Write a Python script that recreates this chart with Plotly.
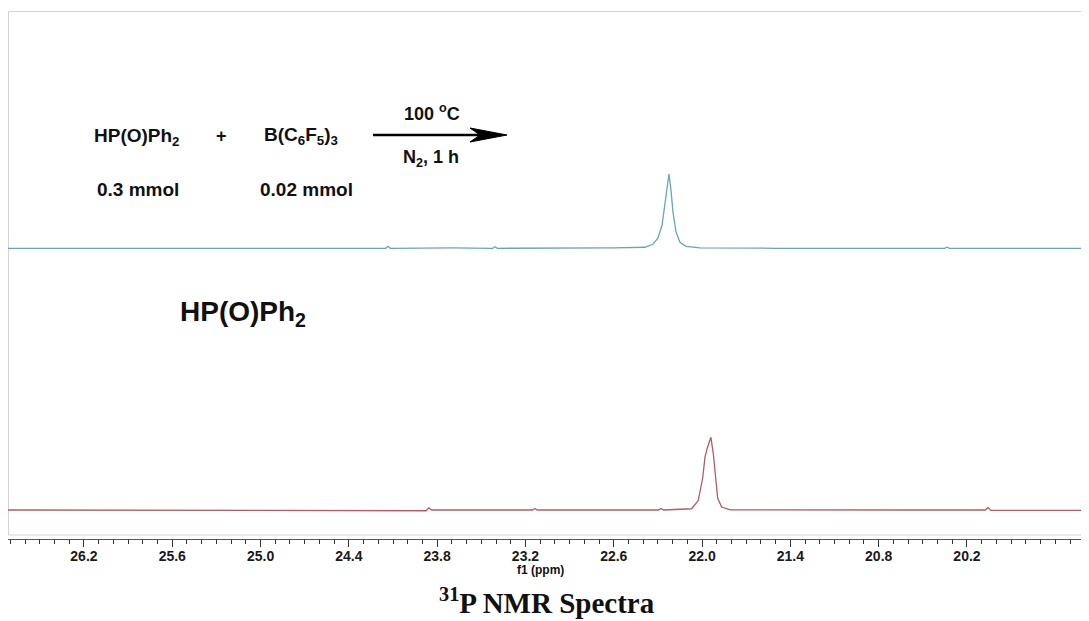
import plotly.graph_objects as go

# ---------------- data ----------------
teal_ppm = [26.72, 24.40, 24.150, 24.134, 24.118, 23.70, 23.423, 23.407, 23.391,
            22.60, 22.388, 22.334, 22.300, 22.272, 22.252, 22.238, 22.225, 22.211,
            22.198, 22.177, 22.150, 22.109, 22.014, 21.50, 20.352, 20.336, 20.320, 19.37]
teal_int = [0, 0, 0, 2.7, 0, 0.5, 0, 2.0, 0,
            0.5, 1.4, 5.4, 13.5, 31, 58, 81, 100, 78,
            49, 22, 8, 2.7, 0.7, 0, 0, 1.5, 0, 0]

red_ppm = [26.72, 24.20, 23.875, 23.856, 23.838, 23.40, 23.152, 23.136, 23.120,
           22.40, 22.296, 22.279, 22.262, 22.071, 22.026, 21.996, 21.980, 21.965,
           21.940, 21.924, 21.910, 21.894, 21.867, 21.810, 20.60, 20.076, 20.057,
           20.038, 19.37]
red_int = [0, 0, -1, 3, 0, 0, 0, 2, 0,
           0, 0, 2, 0, 1.7, 13, 44, 73, 85,
           100, 78, 45, 16, 4, 0.3, 0, 0, 3.5,
           -0.5, -0.5]

tick_vals = [26.2, 25.6, 25.0, 24.4, 23.8, 23.2, 22.6, 22.0, 21.4, 20.8, 20.2]
tick_text = ["26.2", "25.6", "25.0", "24.4", "23.8", "23.2", "22.6", "22.0", "21.4", "20.8", "20.2"]

x_label = "f1 (ppm)"
title_text = "<sup>31</sup>P NMR Spectra"
sample_label = "HP(O)Ph<sub>2</sub>"

# ---------------- layout geometry ----------------
OFF = 8                      # page body margin
W, H = 1089 - OFF, 621 - OFF
L, R, T = 0, 0, 11 - OFF
plot_bottom = 539 - OFF      # figure px
B = H - plot_bottom
PW, PH = W - L - R, H - T - B


def px(x):                   # window px -> paper
    return (x - OFF - L) / PW


def py(y):
    return (plot_bottom - (y - OFF)) / PH


def yrange(dom_top, dom_bot, base, peak, peak_val=100.0):
    per = peak_val / (base - peak)
    return [-(dom_bot - base) * per, (base - dom_top) * per]


top_w = 11
bot_w = 539
mid_w = (top_w + bot_w) / 2

fig = go.Figure()
fig.add_trace(go.Scatter(x=red_ppm, y=red_int, mode="lines",
                         line=dict(color="#b45c63", width=1.3),
                         xaxis="x", yaxis="y", hoverinfo="skip"))
fig.add_trace(go.Scatter(x=teal_ppm, y=teal_int, mode="lines",
                         line=dict(color="#66a9aa", width=1.3),
                         xaxis="x", yaxis="y2", hoverinfo="skip"))

SANS = "Liberation Sans, Arial, sans-serif"
SERIF = "Liberation Serif, Times New Roman, serif"

fig.update_layout(
    width=W, height=H,
    margin=dict(l=L, r=R, t=T, b=B, pad=0),
    paper_bgcolor="white", plot_bgcolor="white",
    showlegend=False,
    xaxis=dict(range=[26.716, 19.371], showgrid=False, zeroline=False,
               showline=True, linecolor="#555", linewidth=1,
               ticks="outside", ticklen=7, tickwidth=1, tickcolor="#333",
               tickmode="array", tickvals=tick_vals, ticktext=tick_text,
               ticklabelstandoff=-3,
               tickfont=dict(family=SANS, size=14, color="#1a1a1a", weight="bold"),
               minor=dict(tickmode="linear", tick0=20.2, dtick=0.1,
                          ticks="outside", ticklen=4, tickwidth=1, tickcolor="#333")),
    yaxis=dict(domain=[0, 0.5], visible=False, showgrid=False, zeroline=False,
               range=yrange(mid_w, bot_w, 510, 437.3)),
    yaxis2=dict(domain=[0.5, 1], visible=False, showgrid=False, zeroline=False,
                range=yrange(top_w, mid_w, 248.3, 174)),
)

# light frame around the spectra
fig.add_shape(type="rect", xref="paper", yref="paper",
              x0=px(8.5), x1=1.01, y0=py(535), y1=py(11.5),
              line=dict(color="#d4d4d4", width=1), layer="below")

# reaction arrow
fig.add_shape(type="line", xref="paper", yref="paper",
              x0=px(373), x1=px(482), y0=py(135), y1=py(135),
              line=dict(color="black", width=2.5))
head = "M {},{} L {},{} L {},{} L {},{} Z".format(
    px(507), py(135), px(470), py(128), px(480), py(135), px(470), py(142))
fig.add_shape(type="path", xref="paper", yref="paper", path=head,
              fillcolor="black", line=dict(color="black", width=1))


def label(text, x, y, size, family=SANS, bold=True, color="#111"):
    fig.add_annotation(text=text, xref="paper", yref="paper",
                       x=px(x), y=py(y), xanchor="center", yanchor="middle",
                       showarrow=False,
                       font=dict(family=family, size=size, color=color,
                                 weight="bold" if bold else "normal"))


label("HP(O)Ph<sub>2</sub>", 137, 137, 19)
label("+", 221, 136, 18)
label("B(C<sub>6</sub>F<sub>5</sub>)<sub>3</sub>", 301, 136, 19)
label("0.3 mmol", 138, 189, 19)
label("0.02 mmol", 306, 189, 19)
label("100 <sup>o</sup>C", 432, 112, 18)
label("N<sub>2</sub>, 1 h", 431, 158, 18)
label(sample_label, 243, 313, 28)
label(x_label, 540, 570, 12)
label(title_text, 547, 601, 29, family=SERIF)

fig.write_html("out.html")
